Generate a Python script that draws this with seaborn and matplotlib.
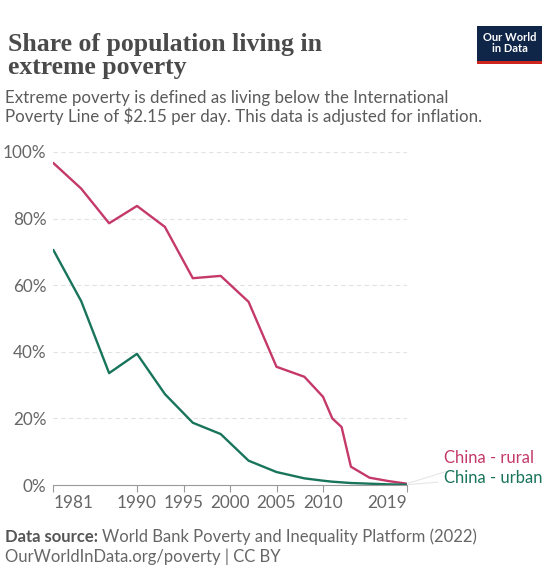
import matplotlib
matplotlib.use("Agg")
import matplotlib.pyplot as plt
import seaborn as sns
import pandas as pd
from matplotlib.patches import Rectangle

# Share of population below $2.15/day, China
rural_years = [1981, 1984, 1987, 1990, 1993, 1996, 1999, 2002, 2005, 2008,
               2010, 2011, 2012, 2013, 2015, 2017, 2019]
rural_share = [96.7, 89.0, 78.6, 83.8, 77.5, 62.1, 62.8, 55.0, 35.5, 32.5,
               26.5, 20.0, 17.4, 5.5, 2.2, 1.2, 0.4]
urban_years = [1981, 1984, 1987, 1990, 1993, 1996, 1999, 2002, 2005, 2008,
               2010, 2011, 2012, 2013, 2015, 2017, 2019]
urban_share = [70.6, 55.2, 33.6, 39.4, 27.3, 18.7, 15.3, 7.3, 3.9, 2.0,
               1.3, 1.0, 0.8, 0.6, 0.4, 0.2, 0.1]
series_names = ["China - rural", "China - urban"]
series_colors = ["#c4386a", "#18745a"]
x_ticks = [1981, 1990, 1995, 2000, 2005, 2010, 2019]
y_ticks = [0, 20, 40, 60, 80, 100]

df = pd.concat([
    pd.DataFrame({"year": rural_years, "share": rural_share, "series": series_names[0]}),
    pd.DataFrame({"year": urban_years, "share": urban_share, "series": series_names[1]}),
])

sns.set_theme(style="white")
plt.rcParams["font.family"] = ["Lato", "DejaVu Sans"]

fig = plt.figure(figsize=(5.49, 5.68), dpi=100)
fig.patch.set_facecolor("white")
ax = fig.add_axes([0.0971, 0.1461, 0.6437, 0.5863])

sns.lineplot(data=df, x="year", y="share", hue="series",
             palette=dict(zip(series_names, series_colors)),
             linewidth=1.7, legend=False, ax=ax, sort=False)

ax.set_xlim(1981, 2019)
ax.set_ylim(0, 100)
ax.set_xticks(x_ticks)
ax.set_yticks(y_ticks)
ax.set_xticklabels([str(t) for t in x_ticks], fontsize=12.3, color="#666666")
ax.set_yticklabels([f"{t}%" for t in y_ticks], fontsize=12.3, color="#666666")
xlabels = ax.get_xticklabels()
xlabels[0].set_horizontalalignment("left")
xlabels[-1].set_horizontalalignment("right")
ax.set_xlabel("")
ax.set_ylabel("")
for s in ["top", "right", "left"]:
    ax.spines[s].set_visible(False)
ax.spines["bottom"].set_color("#999999")
ax.spines["bottom"].set_linewidth(0.8)
ax.tick_params(axis="x", length=5, width=0.8, color="#999999", pad=2, direction="out", bottom=True)
ax.tick_params(axis="y", length=0, pad=5)
for t in y_ticks[1:]:
    ax.axhline(t, color="#e2e2e2", linewidth=0.8, linestyle=(0, (4, 3)), zorder=0)

# end-of-line labels with faint connectors
end_r = rural_share[-1]
end_u = urban_share[-1]
label_y = [8.0, 2.2]
for name, color, y_end, y_lab in zip(series_names, series_colors, [end_r, end_u], label_y):
    ax.annotate(name, xy=(2019, y_end), xytext=(2023.0, y_lab),
                textcoords="data", fontsize=12.0, color=color,
                va="center", ha="left", annotation_clip=False,
                arrowprops=dict(arrowstyle="-", color="#e6e6e6", lw=0.8,
                                shrinkA=2, shrinkB=1))

# title and subtitle
fig.text(0.0146, 0.942, "Share of population living in\nextreme poverty",
         fontsize=18.5, fontweight="bold", color="#4a4a4a", va="top", ha="left",
         family=["Liberation Serif", "DejaVu Serif"], linespacing=1.0)
fig.text(0.0091, 0.841, "Extreme poverty is defined as living below the International\n"
         "Poverty Line of $2.15 per day. This data is adjusted for inflation.",
         fontsize=12.2, color="#5b5b5b", va="top", ha="left", linespacing=1.05)

# footer
foot_y1, foot_y2 = 1 - 537 / 568, 1 - 557 / 568
src = fig.text(0.0091, foot_y1, "Data source: ", fontsize=12.0, color="#555555",
               fontweight="bold", va="center", ha="left")
fig.canvas.draw()
bb = src.get_window_extent().transformed(fig.transFigure.inverted())
fig.text(bb.x1, foot_y1, "World Bank Poverty and Inequality Platform (2022)",
         fontsize=12.0, color="#666666", va="center", ha="left")
fig.text(0.0091, foot_y2, "OurWorldInData.org/poverty | CC BY",
         fontsize=12.0, color="#666666", va="center", ha="left")

# logo
lx0, ly0, lw, lh = 477 / 549, 1 - 64 / 568, 65 / 549, 38 / 568
fig.patches.append(Rectangle((lx0, ly0), lw, lh, transform=fig.transFigure,
                             facecolor="#0f2649", edgecolor="none"))
fig.patches.append(Rectangle((lx0, ly0), lw, 3 / 568, transform=fig.transFigure,
                             facecolor="#ce261e", edgecolor="none"))
fig.text(lx0 + lw / 2, ly0 + lh / 2 + 0.004, "Our World\nin Data", fontsize=8,
         fontweight="bold", color="white", ha="center", va="center", linespacing=1.0)

fig.savefig("out.png", dpi=100, facecolor="white")
